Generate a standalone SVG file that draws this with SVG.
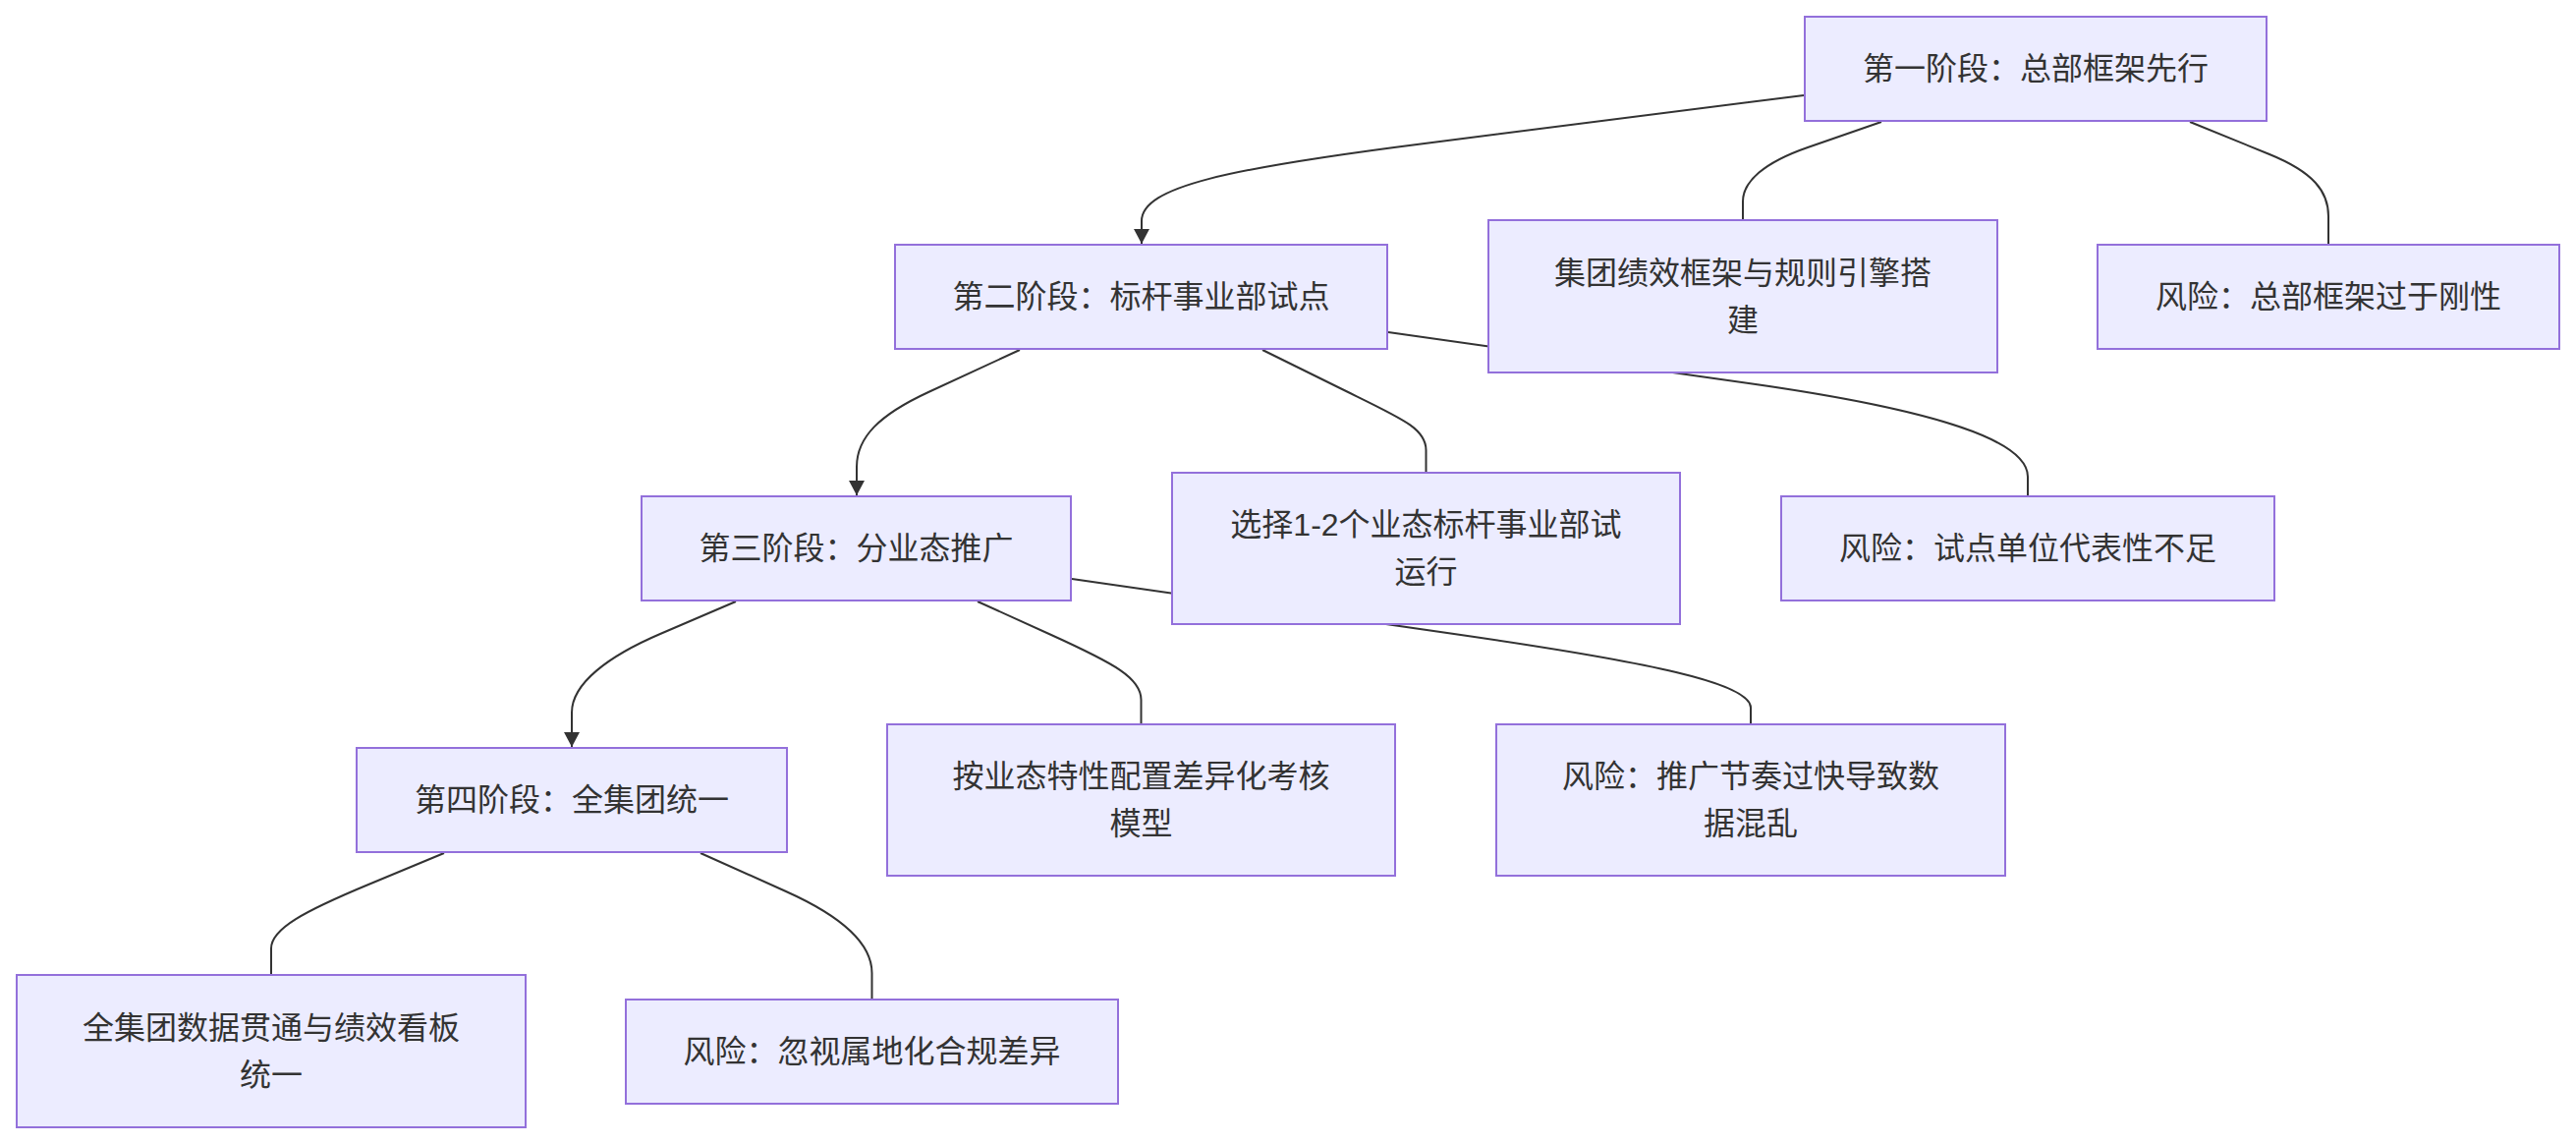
<svg xmlns="http://www.w3.org/2000/svg" width="2622" height="1164" viewBox="0 0 2622 1164">
<style>
.node rect{fill:#ECECFF;stroke:#9370DB;stroke-width:2}
.node text{font-family:"Liberation Sans","Noto Sans CJK SC",sans-serif;font-size:32px;fill:#333333;text-anchor:middle;dominant-baseline:central}
.edge{fill:none;stroke:#333333;stroke-width:2}
</style>
<defs>
<marker id="arrow" viewBox="0 0 15 16" refX="15" refY="8" markerWidth="15" markerHeight="16" markerUnits="userSpaceOnUse" orient="auto">
<path d="M0,0 L15,8 L0,16 z" fill="#333333"/>
</marker>
</defs>
<rect width="2622" height="1164" fill="#ffffff"/>
<g id="connectors">
<path class="edge" d="M1836,97 L1450,146 C1250,171.4 1162,190 1162,225 L1162,248" marker-end="url(#arrow)"/>
<path class="edge" d="M1915,124 L1840,150 C1795,165.6 1774,185 1774,205 L1774,223"/>
<path class="edge" d="M2229,124 L2310,157 C2355,175.3 2370,195 2370,220 L2370,248"/>
<path class="edge" d="M1038,356 L945,399 C895,422.1 872,445 872,475 L872,504" marker-end="url(#arrow)"/>
<path class="edge" d="M1285,356 L1360,393 C1426,425.6 1451.5,435 1451.5,458 L1451.5,480"/>
<path class="edge" d="M1413,338 L1780,390 C1980,418.3 2064,450 2064,485 L2064,504"/>
<path class="edge" d="M749,612 L672,645 C620,667.3 582,695 582,725 L582,760" marker-end="url(#arrow)"/>
<path class="edge" d="M995,612 L1070,646 C1135,675.5 1161.5,690 1161.5,712 L1161.5,736"/>
<path class="edge" d="M1091,589 L1480,645 C1680,673.8 1782,695 1782,720 L1782,736"/>
<path class="edge" d="M452,868 L375,900 C310,927 276,945 276,965 L276,991"/>
<path class="edge" d="M713,868 L800,907 C865,936.1 887.5,965 887.5,990 L887.5,1016"/>
</g>
<g id="stage1" class="node">
<rect x="1837" y="17" width="470" height="106"/>
<text x="2072" y="70">第一阶段：总部框架先行</text>
</g>
<g id="hqFramework" class="node">
<rect x="1515" y="224" width="518" height="155"/>
<text x="1774" y="278">集团绩效框架与规则引擎搭</text>
<text x="1774" y="326">建</text>
</g>
<g id="risk1" class="node">
<rect x="2135" y="249" width="470" height="106"/>
<text x="2370" y="302">风险：总部框架过于刚性</text>
</g>
<g id="stage2" class="node">
<rect x="911" y="249" width="501" height="106"/>
<text x="1161.5" y="302">第二阶段：标杆事业部试点</text>
</g>
<g id="pilot" class="node">
<rect x="1193" y="481" width="517" height="154"/>
<text x="1451.5" y="534">选择1-2个业态标杆事业部试</text>
<text x="1451.5" y="582">运行</text>
</g>
<g id="risk2" class="node">
<rect x="1813" y="505" width="502" height="106"/>
<text x="2064" y="558">风险：试点单位代表性不足</text>
</g>
<g id="stage3" class="node">
<rect x="653" y="505" width="437" height="106"/>
<text x="871.5" y="558">第三阶段：分业态推广</text>
</g>
<g id="diffModel" class="node">
<rect x="903" y="737" width="517" height="154"/>
<text x="1161.5" y="790">按业态特性配置差异化考核</text>
<text x="1161.5" y="838">模型</text>
</g>
<g id="risk3" class="node">
<rect x="1523" y="737" width="518" height="154"/>
<text x="1782" y="790">风险：推广节奏过快导致数</text>
<text x="1782" y="838">据混乱</text>
</g>
<g id="stage4" class="node">
<rect x="363" y="761" width="438" height="106"/>
<text x="582" y="814">第四阶段：全集团统一</text>
</g>
<g id="dashboard" class="node">
<rect x="17" y="992" width="518" height="155"/>
<text x="276" y="1046">全集团数据贯通与绩效看板</text>
<text x="276" y="1094">统一</text>
</g>
<g id="risk4" class="node">
<rect x="637" y="1017" width="501" height="106"/>
<text x="887.5" y="1070">风险：忽视属地化合规差异</text>
</g>
</svg>
